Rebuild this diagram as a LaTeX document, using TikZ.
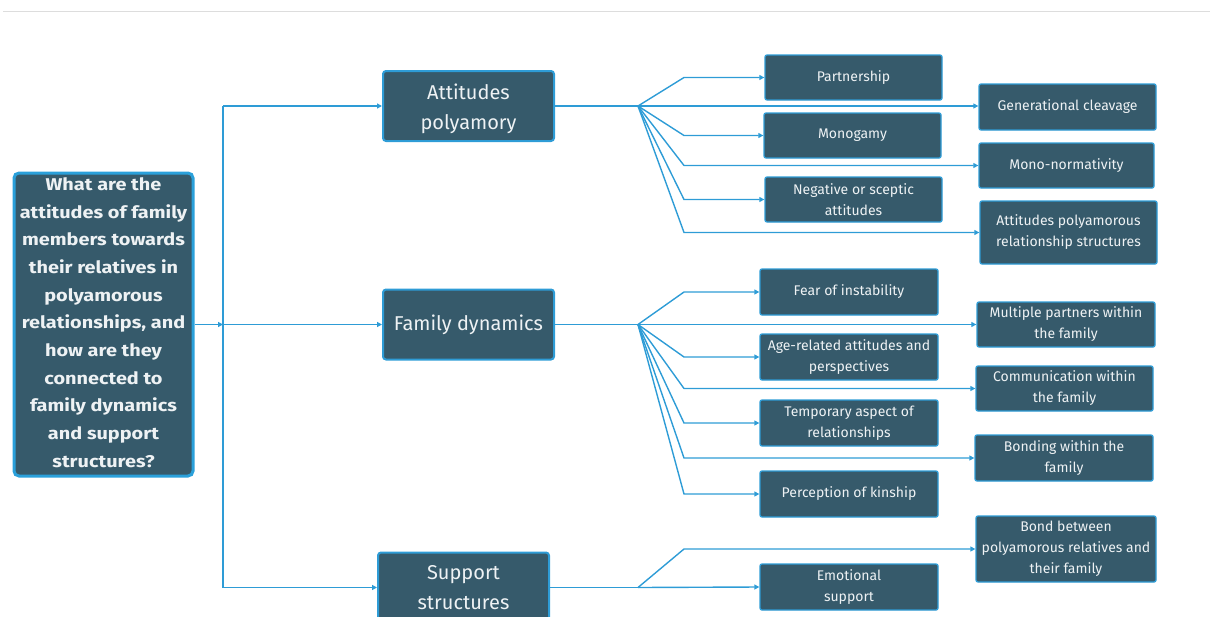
\documentclass[tikz,border=0pt]{standalone}
\usepackage{fontspec}
\setmainfont{Fira Sans}
\newfontfamily\qfont{Fira Sans}[FakeStretch=1.17]
\usetikzlibrary{arrows.meta}
\definecolor{boxfill}{HTML}{365A6B}
\definecolor{boxline}{HTML}{2E9CD6}
\definecolor{mainline}{HTML}{2AA0DA}
\definecolor{txt}{HTML}{EEF2F4}
\definecolor{topline}{HTML}{DDDDDD}
\begin{document}
\begin{tikzpicture}[x=1pt,y=-1pt,
  box/.style={draw=boxline, fill=boxfill, text=txt, align=center, rounded corners=2pt, inner sep=0pt, line width=1.3pt},
  leaf/.style={box, font=\fontsize{14}{21}\selectfont},
  mid/.style={box, line width=2pt, rounded corners=3pt, minimum width=171pt, minimum height=70pt, font=\fontsize{20}{30}\selectfont},
  mainbox/.style={box, draw=mainline, line width=3pt, rounded corners=5pt, minimum width=179pt, minimum height=303pt, font=\qfont\fontsize{17}{27.7}\selectfont\bfseries},
  conn/.style={draw=boxline, line width=1.4pt, -{Triangle[length=5pt,width=5pt]}},
  plain/.style={draw=boxline, line width=1.4pt}
]
\useasboundingbox (0,0) rectangle (1210,616);
\draw[topline, line width=0.8pt] (3,11) -- (1210,11);

% main question
\node[mainbox] (q) at (103.5,324.5) {};
\node[text=txt, align=center, inner sep=0pt, font=\qfont\fontsize{17}{27.7}\selectfont\bfseries] (qt) at (103.5,322.5) {What are the\\attitudes of family\\members towards\\their relatives in\\polyamorous\\relationships, and\\how are they\\connected to\\family dynamics\\and support\\structures?};

% second level
\node[mid] (att) at (468.5,106) {};
\node[text=txt, align=center, inner sep=0pt, font=\fontsize{20}{30}\selectfont] (attt) at (468.5,109) {Attitudes\\polyamory};
\node[mid] (fd) at (468.5,324.5) {Family dynamics};
\node[mid] (ss) at (463.5,587.5) {Support\\structures};

% leaves: attitudes
\node[leaf, minimum width=177pt, minimum height=45pt] (p) at (853.5,77.5) {Partnership};
\node[leaf, minimum width=177pt, minimum height=46pt] (gc) at (1067.5,107) {Generational cleavage};
\node[leaf, minimum width=177pt, minimum height=45pt] (mo) at (852.5,135.5) {Monogamy};
\node[leaf, minimum width=175pt, minimum height=45pt] (mn) at (1066.5,165.5) {Mono-normativity};
\node[leaf, minimum width=177pt, minimum height=45pt] (neg) at (853.5,199.5) {Negative or sceptic\\attitudes};
\node[leaf, minimum width=177pt, minimum height=63pt] (apr) at (1068.5,232.5) {Attitudes polyamorous\\relationship structures};

% leaves: family dynamics
\node[leaf, minimum width=178pt, minimum height=46pt] (fi) at (849,292) {Fear of instability};
\node[leaf, minimum width=178pt, minimum height=45pt] (mp) at (1066,324.5) {Multiple partners within\\the family};
\node[leaf, minimum width=178pt, minimum height=46pt] (ar) at (849,357) {Age-related attitudes and\\perspectives};
\node[leaf, minimum width=177pt, minimum height=45pt] (cw) at (1064.5,388.5) {Communication within\\the family};
\node[leaf, minimum width=178pt, minimum height=46pt] (ta) at (849,423) {Temporary aspect of\\relationships};
\node[leaf, minimum width=178pt, minimum height=46pt] (bw) at (1064,458) {Bonding within the\\family};
\node[leaf, minimum width=178pt, minimum height=46pt] (pk) at (849,494) {Perception of kinship};

% leaves: support
\node[leaf, minimum width=180pt, minimum height=66pt] (bb) at (1066,549) {Bond between\\polyamorous relatives and\\their family};
\node[leaf, minimum width=178pt, minimum height=46pt] (es) at (849,587) {Emotional\\support};

% junctions
\coordinate (j) at (223,324.5);
\coordinate (bx) at (684,0);
\coordinate (fa) at (638,106);
\coordinate (ff) at (638,324.5);
\coordinate (fs) at (638,587.5);

\draw[conn] (q.east) -- (j);
\draw[plain] (j |- att.west) -- (j |- ss.west);
\draw[conn] (j |- att.west) -- (att.west);
\draw[conn] (j) -- (fd.west);
\draw[conn] (j |- ss.west) -- (ss.west);

% fan attitudes
\draw[plain] (att.east) -- (fa);
\draw[conn] (fa) -- (p.west -| bx) -- (p.west);
\draw[conn] (fa) -- (fa -| gc.west);
\draw[conn] (fa) -- (mo.west -| bx) -- (mo.west);
\draw[conn] (fa) -- (mn.west -| bx) -- (mn.west);
\draw[conn] (fa) -- (neg.west -| bx) -- (neg.west);
\draw[conn] (fa) -- (apr.west -| bx) -- (apr.west);

% fan family dynamics
\draw[plain] (fd.east) -- (ff);
\draw[conn] (ff) -- (fi.west -| bx) -- (fi.west);
\draw[conn] (ff) -- (mp.west);
\draw[conn] (ff) -- (ar.west -| bx) -- (ar.west);
\draw[conn] (ff) -- (cw.west -| bx) -- (cw.west);
\draw[conn] (ff) -- (ta.west -| bx) -- (ta.west);
\draw[conn] (ff) -- (bw.west -| bx) -- (bw.west);
\draw[conn] (ff) -- (pk.west -| bx) -- (pk.west);

% fan support
\draw[plain] (ss.east) -- (fs);
\draw[conn] (fs) -- (bb.west -| bx) -- (bb.west);
\draw[conn] (fs) -- (es.west);
\end{tikzpicture}
\end{document}
